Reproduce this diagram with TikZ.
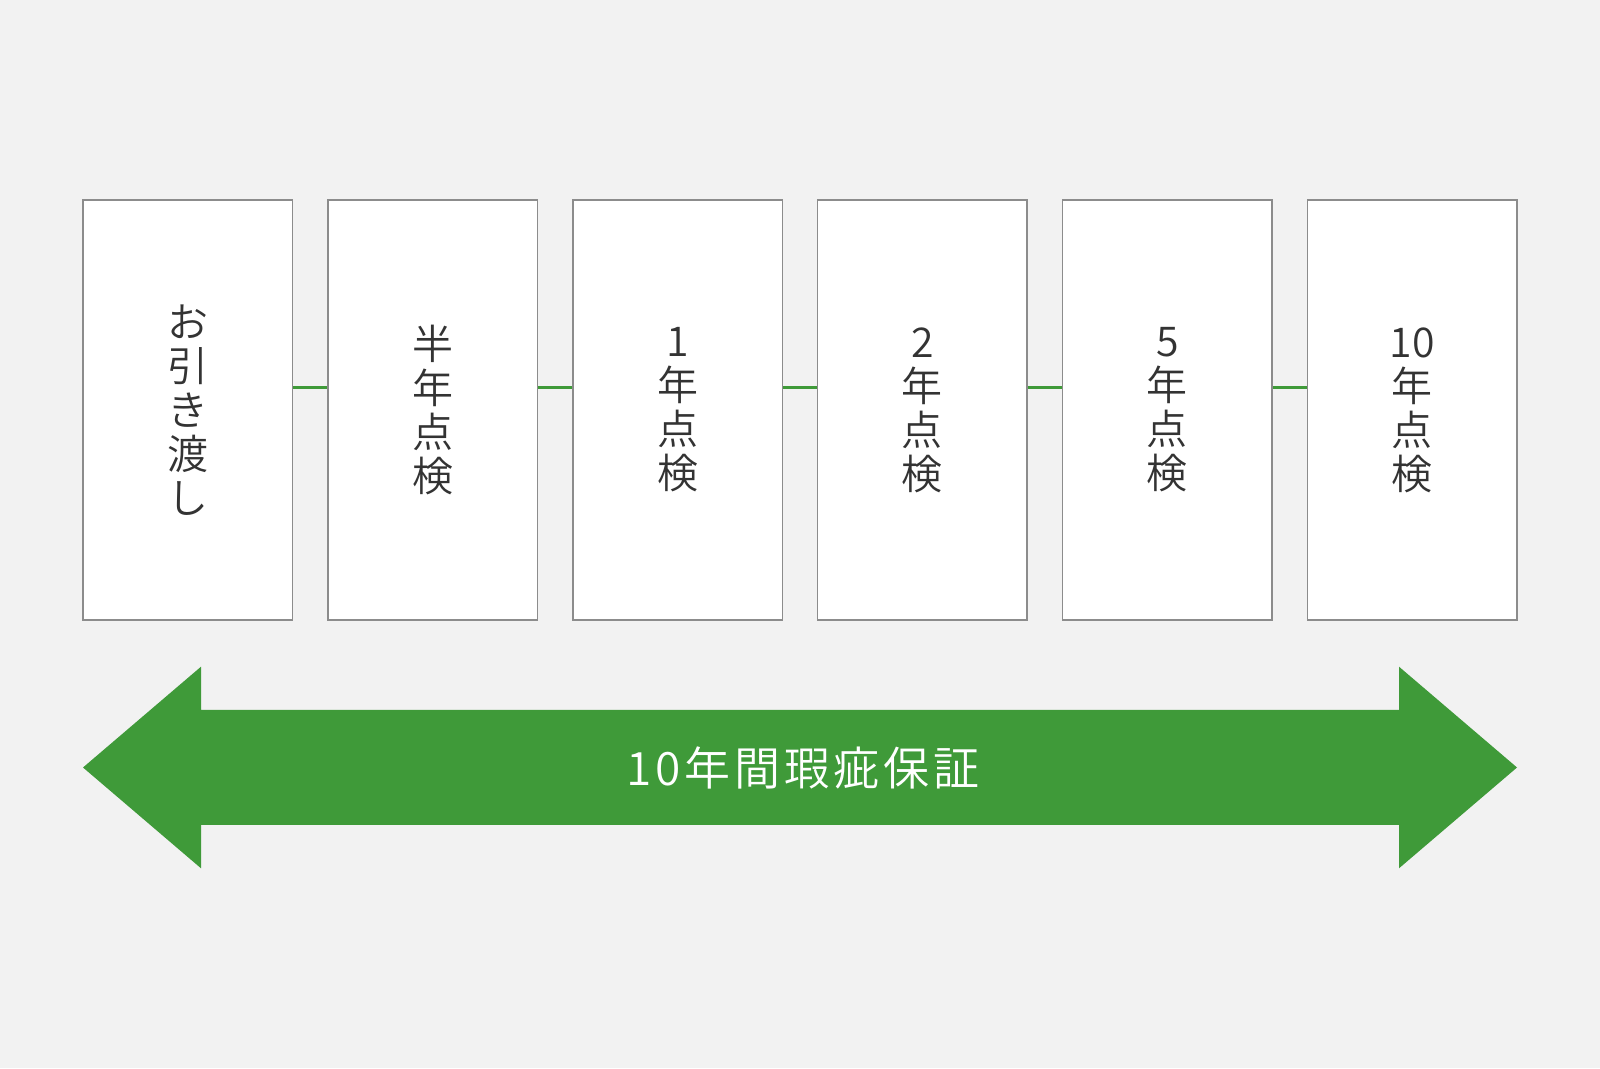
\documentclass[tikz,border=0pt]{standalone}
\usepackage{fontspec}
\setmainfont{Noto Sans CJK JP DemiLight}
\newfontfamily\jpwide[LetterSpace=8]{Noto Sans CJK JP DemiLight}
\definecolor{bg}{HTML}{F2F2F2}
\definecolor{boxgray}{HTML}{8C8C8C}
\definecolor{textgray}{HTML}{333333}
\definecolor{arrowgreen}{HTML}{3F9A39}
\begin{document}
\begin{tikzpicture}[x=1pt,y=1pt]
\fill[bg] (0,0) rectangle (1600,1068);
\useasboundingbox (0,0) rectangle (1600,1068);
\tikzset{
  stagebox/.style={draw=boxgray, line width=1.5pt, fill=white,
    minimum width=209.5pt, minimum height=420pt, inner sep=0pt,
    align=center, text=textgray, font=\fontsize{41}{44}\selectfont},
  conn/.style={draw=arrowgreen, line width=3.2pt}
}
\node[stagebox] (b1) at (187.75,658) {お\\引\\き\\渡\\し};
\node[stagebox] (b2) at (432.65,658) {半\\年\\点\\検};
\node[stagebox] (b3) at (677.55,658) {1\\年\\点\\検};
\node[stagebox] (b4) at (922.45,658) {2\\年\\点\\検};
\node[stagebox] (b5) at (1167.35,658) {5\\年\\点\\検};
\node[stagebox] (b6) at (1412.25,658) {10\\年\\点\\検};
\foreach \a/\b in {b1/b2,b2/b3,b3/b4,b4/b5,b5/b6}
  \draw[conn] ([yshift=22.3pt]\a.east) -- ([yshift=22.3pt]\b.west);
\fill[arrowgreen] (83,300.5) -- (201,401.3) -- (201,358) -- (1399,358)
  -- (1399,401.3) -- (1517,300.5) -- (1399,199.7) -- (1399,243)
  -- (201,243) -- (201,199.7) -- cycle;
\node[font=\jpwide\fontsize{46}{50}\selectfont, text=white, inner sep=0pt] (warranty) at (803,300.5) {10年間瑕疵保証};
\end{tikzpicture}
\end{document}
